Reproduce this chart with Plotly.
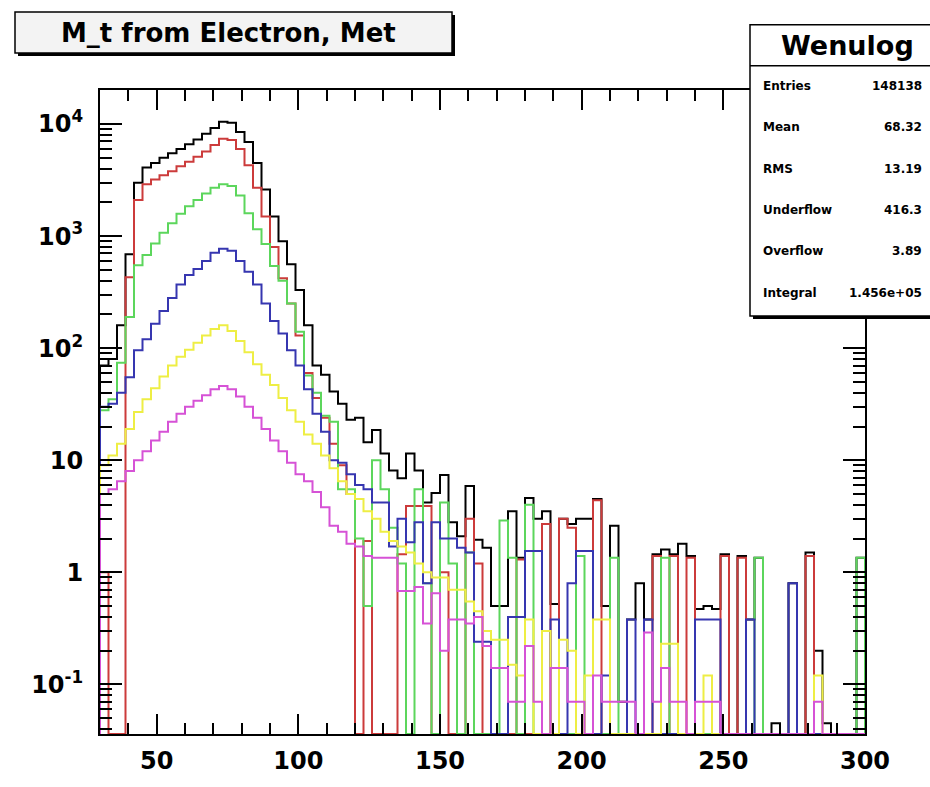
import numpy as np
import plotly.graph_objects as go

# ---------------- data ----------------
X_LO, X_HI, BIN_W = 30, 300, 3
Y_LO_LOG, Y_HI_LOG = -1.443, 4.304

black = [70, 80, 160, 690, 3000, 4100, 4500, 5000, 5500, 6000, 6600, 7300, 8200, 9200, 10500,
         10300, 8500, 6900, 4500, 2600, 1500, 900, 560, 330, 160,
         70, 58, 41, 32, 23, 24, 14.5, 18.6, 11.5, 8.1, 6.9, 11.5, 8.1, 4.2, 5.1, 7.4, 2.8, 2.1, 5.9,
         1.95, 1.66, 0.5, 0.5, 3.5, 1.35,
         4.6, 3.0, 3.5, 0.52, 3.0, 2.7, 3.0, 3.0, 4.5, 0.5, 2.6, 0.07, 0.38, 0.8, 0.38, 1.45, 1.6,
         1.45, 1.8, 1.4, 0.47, 0.5, 0.47, 1.45, 0,
         1.4, 0.38, 1.35, 0, 0.045, 0, 0.8, 0, 1.5, 0.2, 0.045, 0, 0, 0, 1.35]
red = [1.0, 0, 0, 430, 2100, 2900, 3200, 3500, 3800, 4200, 4600, 5100, 5700, 6500, 7400,
       7200, 6000, 4300, 2700, 1500, 800, 420, 250, 130, 60,
       36, 24, 14, 9, 5, 0, 1.9, 0, 0, 0, 1.45, 3.9, 3.9, 3.9, 0, 1.0, 0, 0, 3.0, 1.2, 0, 0, 0, 0, 1.3,
       0, 0, 2.7, 0, 3.0, 2.5, 0, 0, 4.4, 0, 0, 0, 0, 0, 0, 1.4, 0, 1.4, 0, 1.35, 0, 0, 0, 1.4, 0,
       1.35, 0, 0, 0, 0, 0, 0, 0, 1.4, 0, 0, 0, 0, 0, 0]
green = [28, 35, 74, 190, 550, 680, 860, 1070, 1300, 1580, 1850, 2100, 2400, 2700, 2900,
         2800, 2300, 1600, 1150, 850, 540, 400, 250, 140, 57,
         40, 25, 22, 5.5, 5.5, 2.0, 0.5, 10, 5.5, 2.5, 1.2, 0, 5.5, 0.8, 0, 4.2, 1.2, 0, 1.5, 0,
         0, 0, 2.9, 1.35, 0,
         4.0, 0, 0, 0, 0, 0, 1.4, 0, 0, 0, 1.35, 0, 0, 0, 0, 0, 1.35, 0, 0, 0, 0, 0, 0, 0, 0,
         0, 0, 1.35, 0, 0, 0, 0, 0, 0, 0, 0, 0, 0, 0, 1.35]
blue = [30, 32, 40, 55, 96, 120, 165, 215, 280, 370, 450, 510, 600, 710, 770,
        740, 600, 480, 370, 250, 175, 135, 96, 70, 43,
        26, 18, 10, 9.5, 7.5, 6, 5.5, 4.2, 4.2, 1.7, 3.0, 1.85, 2.8, 0.8, 2.8, 2.0, 2.0, 1.66, 1.5,
        0.24, 0.24, 0, 0, 0.4, 0.4,
        1.55, 1.55, 0, 0.38, 0, 0.8, 1.55, 1.55, 0, 0.12, 0, 0, 0.38, 0, 0.38, 0, 0, 0, 0, 0,
        0.38, 0.38, 0.38, 0, 0,
        0, 0.38, 0, 0, 0, 0, 0.8, 0, 0, 0, 0, 0, 0, 0, 0]
yellow = [9, 11, 14, 19, 27, 35, 44, 56, 70, 84, 97, 112, 130, 148, 160,
          142, 116, 92, 72, 58, 47, 36, 28, 22, 17,
          14, 11, 8.5, 6.5, 5, 4.5, 3.5, 3.0, 2.3, 1.9, 1.7, 1.5, 1.2, 1.0, 0.9, 0.9, 0.7, 0.7, 0.55,
          0.45, 0.3, 0.25, 0.25, 0.15, 0.12,
          0.38, 0, 0.3, 0, 0.25, 0.2, 0, 0.12, 0.38, 0.38, 0, 0, 0, 0, 0, 0, 0.23, 0.23, 0, 0, 0,
          0.12, 0, 0, 0,
          0, 0, 0, 0, 0, 0, 0, 0, 0, 0.12, 0, 0, 0, 0, 0]
magenta = [5, 5.5, 6.5, 8, 10, 12, 15, 18, 22, 26, 30, 34, 38, 43, 46,
           43, 37, 30, 24, 19, 15, 12, 9.5, 7.5, 6.5,
           5.2, 3.8, 2.6, 2.3, 1.8, 1.7, 1.4, 1.35, 1.35, 1.35, 0.68, 0.68, 0.74, 0.35, 0.65, 0.2,
           0.38, 0.38, 0.35, 0.4, 0.22, 0.14, 0.14, 0.07, 0.07,
           0.22, 0.07, 0, 0.14, 0.14, 0.07, 0.07, 0, 0.12, 0.07, 0.07, 0.07, 0.07, 0, 0.29, 0.07,
           0.14, 0.07, 0.07, 0, 0.07, 0.07, 0.07, 0, 0,
           0, 0, 0, 0, 0, 0, 0, 0, 0, 0.07, 0, 0, 0, 0, 0]

series = [("black", black, "#000000"),
          ("red", red, "#cc3b3b"),
          ("green", green, "#5cd65c"),
          ("blue", blue, "#3636b0"),
          ("yellow", yellow, "#eeee44"),
          ("magenta", magenta, "#d652d6")]

x_major = [50, 100, 150, 200, 250, 300]
y_major = [0.1, 1, 10, 100, 1000, 10000]
y_major_text = ["10<sup>-1</sup>", "1", "10", "10<sup>2</sup>", "10<sup>3</sup>", "10<sup>4</sup>"]

title_text = "M_t from Electron, Met"
stat_title = "Wenulog"
stat_names = ["Entries", "Mean", "RMS", "Underflow", "Overflow", "Integral"]
stat_values = ["148138", "68.32", "13.19", "416.3", "3.89", "1.456e+05"]

# ---------------- figure ----------------
W, H = 930, 787
PL, PR, PT, PB = 100, 865, 90, 751

def px(x):
    return (x - PL) / (PR - PL)

def py(y):
    return (PB - y) / (PB - PT)

edges = np.arange(X_LO, X_HI + BIN_W, BIN_W)
floor = 10 ** Y_LO_LOG

fig = go.Figure()
for name, vals, col in series:
    v = np.asarray(vals, dtype=float)
    v = np.where(v > 0, v, floor)
    xs = np.concatenate([[edges[0]], edges[:-1], [edges[-1]]])
    ys = np.concatenate([[floor], v, [floor]])
    fig.add_trace(go.Scatter(x=xs, y=ys, mode="lines", line=dict(color=col, width=2, shape="hv"),
                             name=name, showlegend=False, hoverinfo="skip"))

tickfont = dict(family="DejaVu Sans", size=24, color="black", weight="bold")

fig.update_xaxes(range=[X_LO, X_HI], tickvals=x_major, ticks="inside", ticklen=20, tickwidth=1.5,
                 tickcolor="black", mirror="allticks", showline=True, linecolor="black", linewidth=2,
                 showgrid=False, zeroline=False, tickfont=tickfont, ticklabelstandoff=4,
                 minor=dict(ticks="inside", ticklen=11, tickwidth=1.5, tickcolor="black",
                            dtick=10, tick0=0, showgrid=False))
y_minor = [m * 10.0 ** d for d in range(-2, 5) for m in range(2, 10)]
fig.update_yaxes(type="log", range=[Y_LO_LOG, Y_HI_LOG], tickmode="array", tickvals=y_major,
                 ticktext=y_major_text, ticks="inside", ticklen=22, tickwidth=1.5, tickcolor="black",
                 mirror="allticks", showline=True, linecolor="black", linewidth=2, showgrid=False,
                 zeroline=False, tickfont=tickfont, ticklabelstandoff=10,
                 minor=dict(ticks="inside", ticklen=12, tickwidth=1.5, tickcolor="black",
                            tickmode="array", tickvals=y_minor, showgrid=False))

shapes = []
annotations = []
# title box with shadow
shapes.append(dict(type="rect", xref="paper", yref="paper", x0=px(18), x1=px(455), y0=py(55), y1=py(13),
                   fillcolor="black", line=dict(width=0), layer="above"))
shapes.append(dict(type="rect", xref="paper", yref="paper", x0=px(15), x1=px(452), y0=py(52), y1=py(10),
                   fillcolor="#f3f3f3", line=dict(color="black", width=1.5), layer="above"))
annotations.append(dict(xref="paper", yref="paper", x=px(228), y=py(31), text=title_text, showarrow=False,
                        xanchor="center", yanchor="middle",
                        font=dict(family="DejaVu Sans", size=26, color="black", weight="bold")))
# stats box with shadow
shapes.append(dict(type="rect", xref="paper", yref="paper", x0=px(753), x1=px(940), y0=py(325), y1=py(26),
                   fillcolor="black", line=dict(width=0), layer="above"))
shapes.append(dict(type="rect", xref="paper", yref="paper", x0=px(750), x1=px(937), y0=py(322), y1=py(23),
                   fillcolor="white", line=dict(color="black", width=1.5), layer="above"))
shapes.append(dict(type="line", xref="paper", yref="paper", x0=px(750), x1=px(937), y0=py(65), y1=py(65),
                   line=dict(color="black", width=1.5), layer="above"))
annotations.append(dict(xref="paper", yref="paper", x=px(847), y=py(44), text=stat_title, showarrow=False,
                        xanchor="center", yanchor="middle",
                        font=dict(family="DejaVu Sans", size=27, color="black", weight="bold")))
row_y0, row_dy = 86, 42.4
for i, (nm, vl) in enumerate(zip(stat_names, stat_values)):
    yy = row_y0 + i * row_dy
    annotations.append(dict(xref="paper", yref="paper", x=px(761), y=py(yy), text=nm, showarrow=False,
                            xanchor="left", yanchor="middle",
                            font=dict(family="DejaVu Sans", size=12, color="black", weight="bold")))
    annotations.append(dict(xref="paper", yref="paper", x=px(924), y=py(yy), text=vl, showarrow=False,
                            xanchor="right", yanchor="middle",
                            font=dict(family="DejaVu Sans", size=12, color="black", weight="bold")))

fig.update_layout(width=W, height=H, margin=dict(l=PL, r=W - PR, t=PT, b=H - PB),
                  paper_bgcolor="white", plot_bgcolor="white", shapes=shapes, annotations=annotations,
                  showlegend=False)

fig.write_html("out.html")
